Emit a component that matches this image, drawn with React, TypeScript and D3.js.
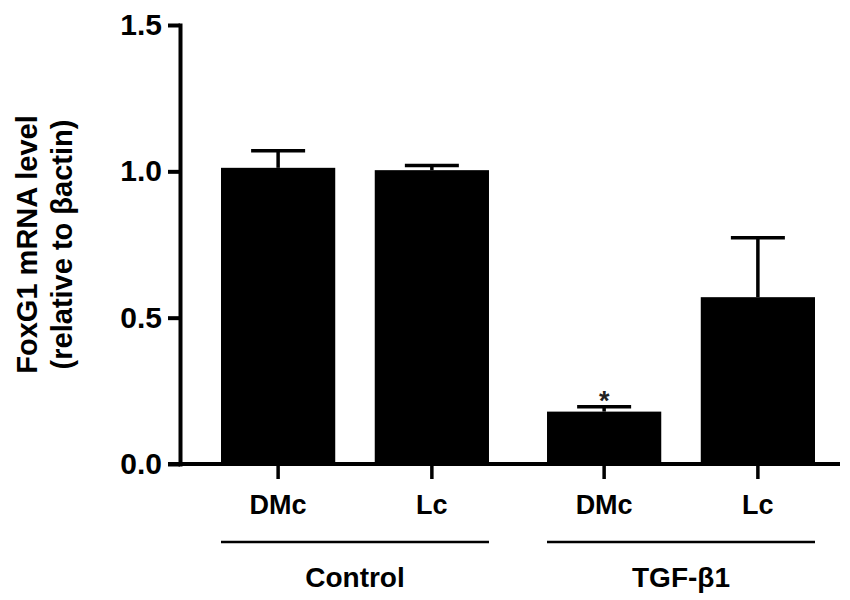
import React, { useEffect, useRef } from 'react';
import * as d3 from 'd3';

const GROUPS = ['Control', 'TGF-β1'];
const CONDITIONS = ['DMc', 'Lc'];
// mean FoxG1 level per group, per condition
const MEANS = [
  [1.012, 1.004],
  [0.179, 0.57],
];
// upper error (SEM)
const ERRORS = [
  [0.058, 0.016],
  [0.017, 0.203],
];
const MARKS = [
  ['', ''],
  ['*', ''],
];
const Y_TICKS = [0, 0.5, 1.0, 1.5];

const FONT = "Arial, 'Liberation Sans', Helvetica, sans-serif";

export default function App() {
  const svgRef = useRef<SVGSVGElement>(null);

  useEffect(() => {
    if (!svgRef.current) return;
    const svg = d3.select(svgRef.current);
    svg.selectAll('*').remove();

    const margin = { top: 25, right: 10, bottom: 136, left: 180 };
    const width = 850;
    const height = 600;
    const plotBottom = height - margin.bottom;

    const y = d3.scaleLinear().domain([0, 1.5]).range([plotBottom, margin.top]);

    const x0 = d3.scaleBand<string>()
      .domain(GROUPS)
      .range([221, 815])
      .paddingInner(0.178)
      .paddingOuter(0);

    const x1 = d3.scaleBand<string>()
      .domain(CONDITIONS)
      .range([0, x0.bandwidth()])
      .paddingInner(0.257)
      .paddingOuter(0);

    // Bars
    const barG = svg.append('g');
    GROUPS.forEach((g, gi) => {
      CONDITIONS.forEach((c, ci) => {
        const bx = (x0(g) ?? 0) + (x1(c) ?? 0);
        const cx = bx + x1.bandwidth() / 2;
        const v = MEANS[gi][ci];
        const top = y(v + ERRORS[gi][ci]);

        // error bar stem + cap
        barG.append('line')
          .attr('x1', cx).attr('x2', cx)
          .attr('y1', y(v)).attr('y2', top)
          .attr('stroke', '#000').attr('stroke-width', 3.5);
        barG.append('line')
          .attr('x1', cx - 27).attr('x2', cx + 27)
          .attr('y1', top).attr('y2', top)
          .attr('stroke', '#000').attr('stroke-width', 3.5);

        barG.append('rect')
          .attr('x', bx)
          .attr('y', y(v))
          .attr('width', x1.bandwidth())
          .attr('height', plotBottom - y(v))
          .attr('fill', '#000');

        if (MARKS[gi][ci]) {
          barG.append('text')
            .attr('x', cx)
            .attr('y', top + 3)
            .attr('text-anchor', 'middle')
            .attr('font-family', FONT)
            .attr('font-weight', 'bold')
            .attr('font-size', 27)
            .attr('fill', '#222')
            .text(MARKS[gi][ci]);
        }
      });
    });

    // Y axis
    const yAxis = svg.append('g')
      .attr('transform', `translate(${margin.left},0)`)
      .call(
        d3.axisLeft(y)
          .tickValues(Y_TICKS)
          .tickSize(12)
          .tickSizeOuter(0)
          .tickPadding(6)
          .tickFormat(d3.format('.1f') as any)
      )
      .attr('font-size', 30)
      .attr('font-family', FONT)
      .attr('font-weight', 'bold')
      .style('color', '#000');
    yAxis.select('.domain').attr('stroke-width', 4).attr('stroke-linecap', 'square');
    yAxis.selectAll('.tick line').attr('stroke-width', 4);

    // X axis line + ticks
    const xAxis = svg.append('g');
    xAxis.append('line')
      .attr('x1', margin.left - 12).attr('x2', width - margin.right)
      .attr('y1', plotBottom).attr('y2', plotBottom)
      .attr('stroke', '#000').attr('stroke-width', 4);

    GROUPS.forEach((g) => {
      CONDITIONS.forEach((c) => {
        const cx = (x0(g) ?? 0) + (x1(c) ?? 0) + x1.bandwidth() / 2;
        xAxis.append('line')
          .attr('x1', cx).attr('x2', cx)
          .attr('y1', plotBottom).attr('y2', plotBottom + 15)
          .attr('stroke', '#000').attr('stroke-width', 3.5);
        xAxis.append('text')
          .attr('x', cx)
          .attr('y', plotBottom + 50)
          .attr('text-anchor', 'middle')
          .attr('font-family', FONT)
          .attr('font-weight', 'bold')
          .attr('font-size', 27)
          .text(c);
      });

      // group bracket line + label
      const gx = x0(g) ?? 0;
      xAxis.append('line')
        .attr('x1', gx).attr('x2', gx + x0.bandwidth())
        .attr('y1', plotBottom + 78).attr('y2', plotBottom + 78)
        .attr('stroke', '#000').attr('stroke-width', 2.5);
      xAxis.append('text')
        .attr('x', gx + x0.bandwidth() / 2)
        .attr('y', plotBottom + 123)
        .attr('text-anchor', 'middle')
        .attr('font-family', FONT)
        .attr('font-weight', 'bold')
        .attr('font-size', 28)
        .text(g);
    });

    // Y axis title
    const cy = (margin.top + plotBottom) / 2;
    const title = svg.append('g')
      .attr('font-family', FONT)
      .attr('font-weight', 'bold')
      .attr('font-size', 29)
      .attr('text-anchor', 'middle');
    title.append('text')
      .attr('transform', `translate(37,${cy}) rotate(-90)`)
      .text('FoxG1 mRNA level');
    title.append('text')
      .attr('transform', `translate(72,${cy}) rotate(-90)`)
      .text('(relative to βactin)');
  }, []);

  return (
    <svg
      ref={svgRef}
      width={850}
      height={600}
      style={{ position: 'absolute', left: 0, top: 0, background: '#fff' }}
    />
  );
}
